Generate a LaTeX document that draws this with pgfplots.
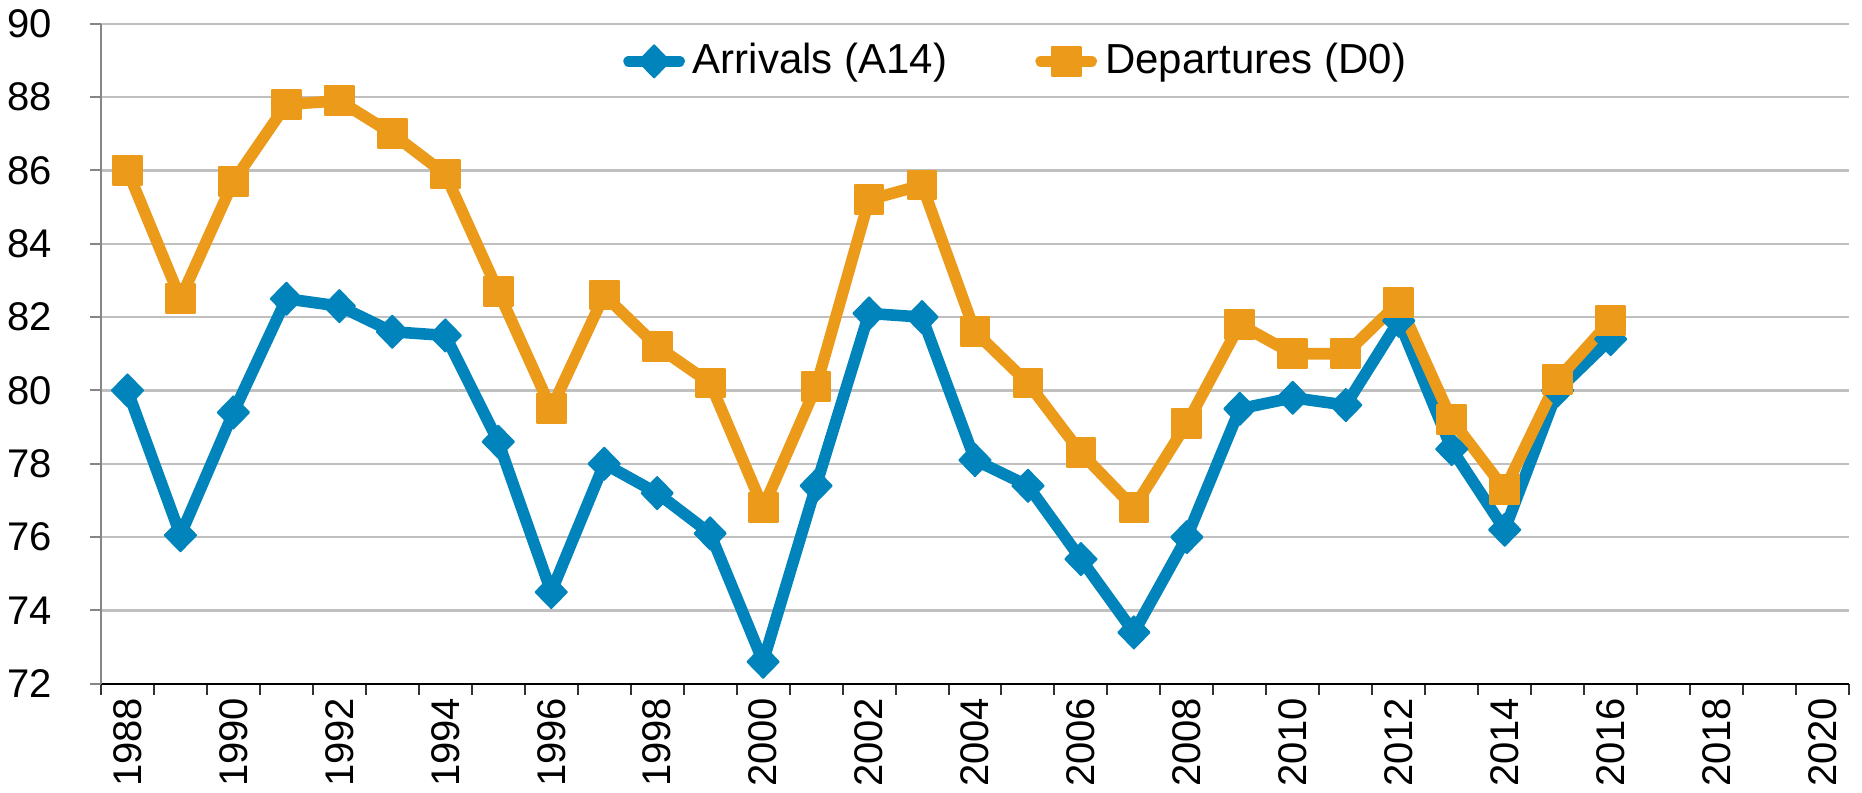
\documentclass[border=0pt]{standalone}
\usepackage{pgfplots}
\pgfplotsset{compat=1.18}
\usepackage{fontspec}
\setmainfont{Liberation Sans}

\definecolor{arrblue}{RGB}{0,132,187}
\definecolor{deporange}{RGB}{236,154,26}
\definecolor{gridgray}{RGB}{192,192,192}
\definecolor{axisgray}{RGB}{134,134,134}

\begin{document}
\begin{tikzpicture}
\begin{axis}[
    scale only axis,
    width=437pt,
    height=165pt,
    xmin=1987.5, xmax=2020.5,
    ymin=72, ymax=90,
    ytick={72,74,...,90},
    xtick={1987.5,1988.5,...,2020.5},
    xticklabels={},
    extra x ticks={1988,1990,...,2020},
    extra x tick style={major tick length=0pt, grid=none},
    extra x tick labels={1988,1990,1992,1994,1996,1998,2000,2002,2004,2006,2008,2010,2012,2014,2016,2018,2020},
    axis lines*=left,
    tick align=outside,
    major tick length=2.7pt,
    ymajorgrids=true,
    grid style={gridgray, line width=0.6pt},
    y axis line style={axisgray, line width=0.5pt},
    x axis line style={black, line width=0.5pt},
    ytick style={axisgray, line width=0.5pt},
    xtick style={black!80, line width=0.5pt},
    tick label style={font=\fontsize{10}{12}\selectfont},
    yticklabel style={xshift=-6pt},
    xticklabel style={rotate=90, anchor=east},
    /pgf/number format/assume math mode=true,
    /pgf/number format/1000 sep={},
    legend columns=2,
    legend style={
        draw=none, fill=none,
        at={(0.525,0.943)}, anchor=center,
        font=\fontsize{10.5}{12}\selectfont,
        /tikz/every even column/.append style={column sep=20pt},
        inner sep=0pt,
    },
    legend image code/.code={%
        \draw[mark repeat=2, mark phase=2] plot coordinates {(0cm,0cm) (0.22cm,0cm) (0.44cm,0cm)};
    },
    every axis plot/.append style={line width=2.9pt, line join=round, line cap=round},
]
\addplot[color=arrblue, mark=diamond*, mark size=4pt, mark options={solid, xscale=1.3, line width=0.5pt, fill=arrblue}]
coordinates {
    (1988,80.0) (1989,76.05) (1990,79.4) (1991,82.5) (1992,82.3)
    (1993,81.6) (1994,81.5) (1995,78.6) (1996,74.5) (1997,78.0)
    (1998,77.2) (1999,76.1) (2000,72.6) (2001,77.4) (2002,82.1)
    (2003,82.0) (2004,78.1) (2005,77.4) (2006,75.4) (2007,73.4)
    (2008,76.0) (2009,79.5) (2010,79.8) (2011,79.6) (2012,81.9)
    (2013,78.4) (2014,76.2) (2015,80.0) (2016,81.4)
};
\addplot[color=deporange, mark=square*, mark size=3.6pt, mark options={solid, line width=0.5pt, fill=deporange}]
coordinates {
    (1988,86.0) (1989,82.5) (1990,85.7) (1991,87.8) (1992,87.9)
    (1993,87.0) (1994,85.9) (1995,82.7) (1996,79.5) (1997,82.6)
    (1998,81.2) (1999,80.2) (2000,76.8) (2001,80.1) (2002,85.2)
    (2003,85.6) (2004,81.6) (2005,80.2) (2006,78.3) (2007,76.8)
    (2008,79.1) (2009,81.8) (2010,81.0) (2011,81.0) (2012,82.4)
    (2013,79.2) (2014,77.3) (2015,80.3) (2016,81.9)
};
\legend{Arrivals (A14), Departures (D0)}
\end{axis}
\pgfresetboundingbox
\path ([shift={(-25.25pt,-27.25pt)}]current axis.south west) rectangle ([shift={(3.25pt,5.94pt)}]current axis.north east);
\end{tikzpicture}
\end{document}
